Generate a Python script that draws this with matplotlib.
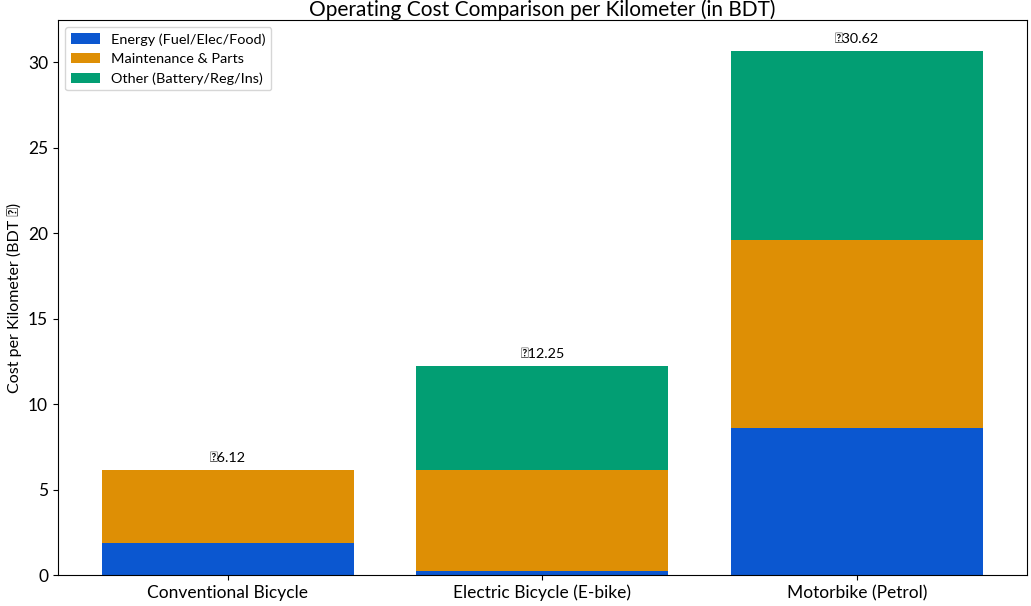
import numpy as np
import matplotlib.pyplot as plt

plt.rcParams['font.family'] = ['Lato', 'DejaVu Sans']

vehicles = ['Conventional Bicycle', 'Electric Bicycle (E-bike)', 'Motorbike (Petrol)']
energy = [1.87, 0.25, 8.60]
maintenance = [4.25, 5.90, 11.00]
other = [0.00, 6.10, 11.02]

colors = ['#0B57D0', '#DE8F05', '#029E73']

fig, ax = plt.subplots(figsize=(10.31, 6.06), dpi=100)
x = np.arange(len(vehicles))
e = np.array(energy)
m = np.array(maintenance)
o = np.array(other)

ax.bar(x, e, 0.8, color=colors[0], label='Energy (Fuel/Elec/Food)')
ax.bar(x, m, 0.8, bottom=e, color=colors[1], label='Maintenance & Parts')
ax.bar(x, o, 0.8, bottom=e + m, color=colors[2], label='Other (Battery/Reg/Ins)')

totals = e + m + o
for xi, t in zip(x, totals):
    ax.text(xi, t + 0.35, f'৳{t:.2f}', ha='center', va='bottom', fontsize=10.4)

ax.set_ylim(0, totals.max() * 1.06)
ax.set_xticks(x)
ax.set_xticklabels(vehicles, fontsize=12.5)
ax.tick_params(axis='y', labelsize=12.5)
ax.set_ylabel('Cost per Kilometer (BDT ৳)', fontsize=11.5)
ax.set_title('Operating Cost Comparison per Kilometer (in BDT)', fontsize=15, pad=3)
ax.legend(loc='upper left', fontsize=10.4)

plt.subplots_adjust(left=0.056, right=0.996, top=0.967, bottom=0.051)
plt.savefig('out.png')
